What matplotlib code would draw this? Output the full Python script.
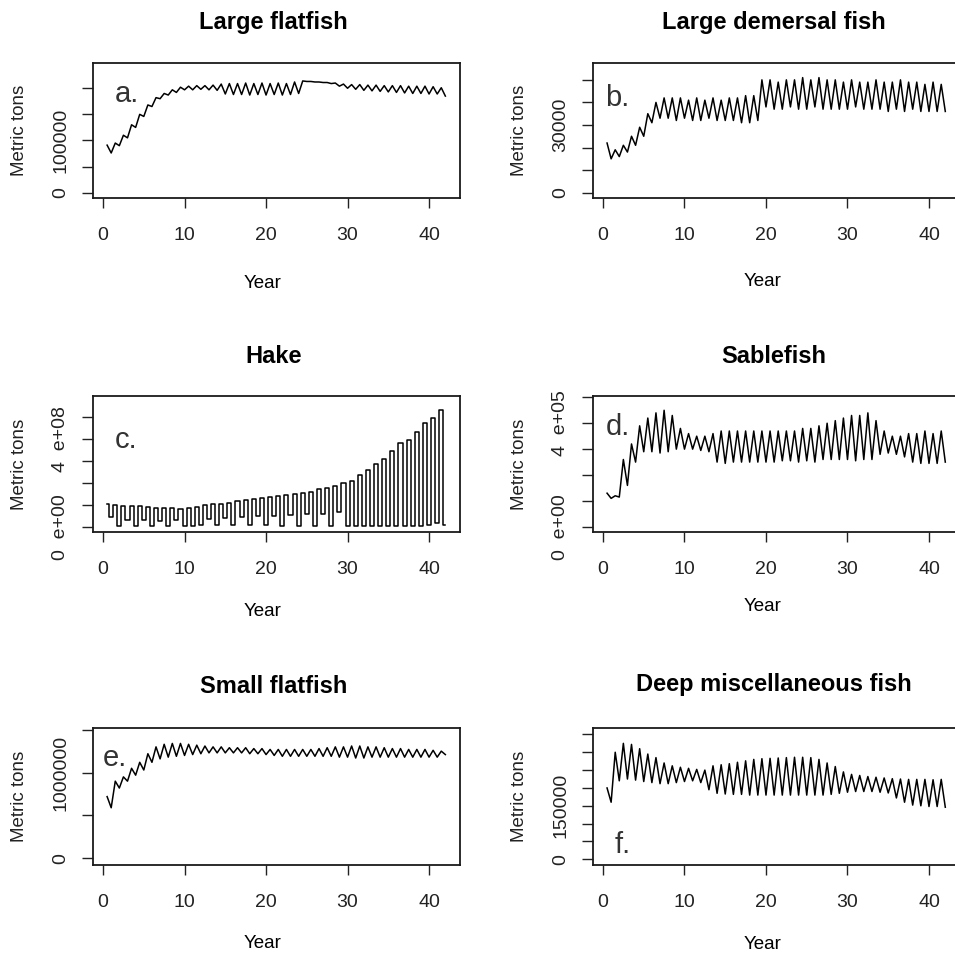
import numpy as np
import matplotlib.pyplot as plt

plt.rcParams['font.family'] = ['Liberation Sans', 'DejaVu Sans']

years = np.arange(1, 43)

titles = ["Large flatfish", "Large demersal fish", "Hake",
          "Sablefish", "Small flatfish", "Deep miscellaneous fish"]
letters = ["a.", "b.", "c.", "d.", "e.", "f."]

# seasonal high / low per year
# large flatfish, thousand tons
lflat_hi = [91, 95, 110, 130, 150, 168, 182, 190, 197, 202, 204, 205, 205, 206, 208, 209, 209, 210, 209, 210, 209,
            210, 209, 212, 214, 213, 212, 211, 210, 208, 207, 207, 206, 206, 205, 205, 205, 204, 204, 204, 203, 201]
lflat_lo = [76, 90, 105, 125, 146, 165, 180, 187, 192, 197, 197, 198, 197, 196, 189, 188, 188, 187, 188, 187, 188,
            187, 188, 190, 213, 212, 211, 209, 204, 200, 198, 196, 195, 194, 193, 192, 191, 190, 190, 189, 189, 185]
# large demersal fish, thousand tons
ldem_hi = [22, 19, 21, 25, 29, 35, 40, 42, 42, 42, 41, 42, 41, 42, 41, 42, 42, 43, 43, 50, 50,
           49, 50, 50, 51, 50, 51, 50, 50, 49, 50, 49, 49, 50, 49, 49, 50, 49, 49, 48, 49, 48]
ldem_lo = [15, 16, 18, 21, 25, 31, 33, 33, 32, 33, 32, 32, 33, 32, 32, 32, 31, 31, 32, 38, 37,
           37, 38, 37, 37, 38, 37, 37, 37, 37, 38, 37, 37, 37, 36, 37, 36, 37, 36, 36, 36, 36]
# hake, 1e8 tons
hake_hi = [1.05, 1.0, 0.95, 0.95, 0.95, 0.9, 0.85, 0.85, 0.85, 0.8, 0.85, 0.9, 1.0, 1.05, 1.05, 1.1, 1.15, 1.2,
           1.25, 1.3, 1.35, 1.4, 1.45, 1.5, 1.55, 1.6, 1.7, 1.75, 1.85, 2.0, 2.1, 2.35, 2.6, 2.85, 3.1, 3.45,
           3.8, 3.95, 4.3, 4.7, 4.95, 5.3]
hake_lo = [0.45, 0.05, 0.3, 0.05, 0.3, 0.05, 0.25, 0.05, 0.3, 0.05, 0.05, 0.1, 0.35, 0.1, 0.4, 0.1, 0.45, 0.1,
           0.5, 0.1, 0.5, 0.05, 0.55, 0.05, 0.6, 0.05, 0.6, 0.05, 0.65, 0.05, 0.05, 0.05, 0.05, 0.05, 0.05, 0.05,
           0.05, 0.05, 0.05, 0.1, 0.15, 0.1]
# sablefish, 1e5 tons
sable_hi = [1.3, 1.2, 2.6, 3.2, 3.9, 4.2, 4.4, 4.5, 4.3, 3.8, 3.6, 3.5, 3.5, 3.6, 3.7, 3.7, 3.7, 3.7, 3.7, 3.7, 3.7,
            3.7, 3.7, 3.7, 3.8, 3.8, 3.9, 4.0, 4.1, 4.2, 4.3, 4.3, 4.4, 4.1, 3.7, 3.5, 3.5, 3.6, 3.6, 3.7, 3.6, 3.7]
sable_lo = [1.1, 1.15, 1.6, 2.5, 2.9, 2.9, 2.85, 2.9, 3.0, 3.0, 3.0, 2.95, 2.9, 2.5, 2.45, 2.5, 2.5, 2.5, 2.5, 2.5,
            2.5, 2.55, 2.55, 2.5, 2.55, 2.5, 2.6, 2.6, 2.6, 2.6, 2.55, 2.6, 2.6, 2.8, 2.85, 2.8, 2.7, 2.5, 2.45,
            2.45, 2.45, 2.5]
# small flatfish, 1e6 tons
sflat_hi = [0.72, 0.90, 0.95, 1.05, 1.12, 1.22, 1.30, 1.33, 1.34, 1.34, 1.33, 1.32, 1.31, 1.30, 1.30, 1.29, 1.29,
            1.29, 1.28, 1.28, 1.27, 1.27, 1.27, 1.27, 1.27, 1.27, 1.28, 1.29, 1.30, 1.30, 1.31, 1.31, 1.30, 1.30,
            1.29, 1.28, 1.28, 1.27, 1.27, 1.27, 1.26, 1.25]
sflat_lo = [0.59, 0.82, 0.90, 0.97, 1.03, 1.12, 1.16, 1.18, 1.19, 1.20, 1.21, 1.22, 1.23, 1.23, 1.23, 1.23, 1.23,
            1.22, 1.22, 1.21, 1.20, 1.19, 1.19, 1.19, 1.19, 1.19, 1.19, 1.19, 1.18, 1.18, 1.17, 1.17, 1.18, 1.18,
            1.18, 1.18, 1.18, 1.18, 1.18, 1.18, 1.18, 1.21]
# deep miscellaneous fish, thousand tons
deep_hi = [200, 300, 325, 322, 310, 295, 285, 270, 262, 258, 255, 252, 250, 262, 265, 268, 272, 276, 280, 282, 283,
           284, 285, 286, 286, 285, 280, 270, 260, 245, 238, 235, 232, 230, 228, 226, 225, 224, 224, 224, 223, 224]
deep_lo = [160, 220, 225, 222, 218, 215, 212, 212, 215, 218, 220, 215, 195, 185, 183, 182, 182, 180, 180, 180, 180,
           180, 180, 180, 180, 180, 180, 182, 185, 188, 190, 190, 190, 188, 186, 172, 160, 152, 150, 148, 148, 146]

highs = [lflat_hi, ldem_hi, hake_hi, sable_hi, sflat_hi, deep_hi]
lows = [lflat_lo, ldem_lo, hake_lo, sable_lo, sflat_lo, deep_lo]
units = [1e3, 1e3, 1e8, 1e5, 1e6, 1e3]

yticks = [[0, 50000, 100000, 150000, 200000],
          [0, 10000, 20000, 30000, 40000, 50000],
          [0, 1e8, 2e8, 3e8, 4e8, 5e8],
          [0, 1e5, 2e5, 3e5, 4e5, 5e5],
          [0, 500000, 1000000, 1500000],
          [0, 50000, 100000, 150000, 200000, 250000, 300000, 350000]]
ytick_labels = [["0", "", "100000", "", ""],
                ["0", "", "", "30000", "", ""],
                ["0  e+00", "", "", "", "4  e+08", ""],
                ["0  e+00", "", "", "", "4  e+05", ""],
                ["0", "", "1000000", ""],
                ["0", "", "", "150000", "", "", "", ""]]
ylims = [(-10200, 248500), (-2350, 57500), (-0.24e8, 5.94e8),
         (-0.2e5, 5.05e5), (-0.078e6, 1.52e6), (-16000, 368000)]
styles = ['default', 'default', 'steps-mid', 'default', 'default', 'default']
letter_pos = [(0.06, 0.71), (0.033, 0.68), (0.06, 0.62), (0.035, 0.71), (0.027, 0.72), (0.06, 0.09)]
title_y = [1.30, 1.30, 1.29, 1.29, 1.30, 1.32]
year_y = [-0.63, -0.62, -0.586, -0.55, -0.57, -0.58]

# axes boxes in figure fraction
lefts = [0.0974, 0.6209]
bottoms = [0.7927, 0.4429, 0.0942]
heights = [0.1414, 0.1424, 0.1435]
width = 0.3843

fig = plt.figure(figsize=(9.55, 9.55), dpi=100)

for i in range(6):
    r, c = i // 2, i % 2
    ax = fig.add_axes([lefts[c], bottoms[r], width, heights[r]])

    hi = np.array(highs[i]) * units[i]
    lo = np.array(lows[i]) * units[i]
    x = np.column_stack([years - 0.5, years]).ravel()
    y = np.column_stack([hi, lo]).ravel()
    ax.plot(x, y, color='black', lw=1.1, drawstyle=styles[i])

    ax.set_xlim(-1.23, 43.8)
    ax.set_ylim(*ylims[i])
    ax.set_xticks([0, 10, 20, 30, 40])
    ax.set_yticks(yticks[i])
    ax.set_yticklabels(ytick_labels[i], rotation=90, va='center')
    ax.tick_params(axis='x', length=7, width=1.0, pad=14, labelsize=14, colors='#222')
    ax.tick_params(axis='y', length=8, width=1.0, pad=9, labelsize=14, colors='#222')
    for s in ax.spines.values():
        s.set_linewidth(1.3)
        s.set_color('#1a1a1a')

    ax.text(0.492, title_y[i], titles[i], transform=ax.transAxes, ha='center', va='center',
            fontsize=17, fontweight='bold')
    ax.text(0.463, year_y[i], "Year", transform=ax.transAxes, ha='center', va='center', fontsize=13.5)
    ax.text(-0.199, 0.5, "Metric tons", transform=ax.transAxes, ha='center', va='center',
            rotation=90, fontsize=13.5, color='#222')
    ax.text(letter_pos[i][0], letter_pos[i][1], letters[i], transform=ax.transAxes,
            ha='left', va='baseline', fontsize=21, color='#333')

fig.savefig('out.png', dpi=100)
